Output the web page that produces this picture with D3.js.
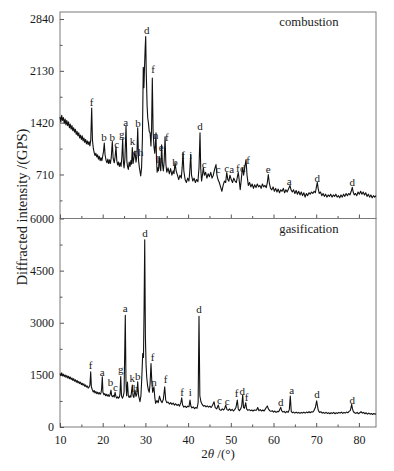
<!DOCTYPE html>
<html><head><meta charset="utf-8">
<script src="https://cdn.jsdelivr.net/npm/d3@7"></script>
<style>
body{margin:0;background:#fff;}
svg{display:block;}
text{font-family:"Liberation Serif","Times New Roman",serif;fill:#1a1a1a;}
</style>
</head><body><svg id="c" width="394" height="471"></svg>
<script>
const xTicks = [10,20,30,40,50,60,70,80];
const xMinorTicks = [15,25,35,45,55,65,75];
const combustionTicks = [710,1420,2130,2840];
const combustionMinor = [355,1065,1775,2485];
const gasificationTicks = [0,1500,3000,4500,6000];
const gasificationMinor = [750,2250,3750,5250];
const panelNames = ["combustion","gasification"];

const combustion = [[10.0,1500],[10.2,1430],[10.4,1520],[10.6,1450],[10.8,1490],[11.0,1410],[11.2,1470],[11.4,1390],[11.6,1450],[11.8,1380],[12.0,1430],[12.2,1350],[12.4,1400],[12.6,1330],[12.8,1380],[13.0,1310],[13.2,1350],[13.4,1290],[13.6,1330],[13.8,1260],[14.0,1300],[14.2,1240],[14.4,1280],[14.6,1210],[14.8,1250],[15.0,1190],[15.2,1240],[15.4,1170],[15.6,1210],[15.8,1150],[16.0,1190],[16.2,1130],[16.4,1170],[16.6,1120],[16.8,1160],[17.0,1100],[17.2,1180],[17.42,1620],[17.6,1180],[17.8,1070],[18.0,1010],[18.2,970],[18.4,1000],[18.6,950],[18.8,980],[19.0,920],[19.2,960],[19.4,900],[19.6,940],[19.8,900],[20.0,960],[20.2,1030],[20.37,1140],[20.55,980],[20.8,900],[21.0,870],[21.2,920],[21.4,860],[21.6,910],[21.8,860],[22.0,940],[22.25,1160],[22.45,930],[22.7,870],[22.9,950],[23.11,1090],[23.3,900],[23.5,840],[23.7,880],[23.9,820],[24.1,870],[24.3,820],[24.5,960],[24.68,1200],[24.85,880],[25.0,800],[25.2,930],[25.46,1375],[25.65,900],[25.8,820],[26.0,780],[26.2,880],[26.4,820],[26.6,900],[26.75,850],[26.93,1080],[27.1,860],[27.3,930],[27.56,1030],[27.8,880],[28.0,960],[28.2,1350],[28.4,900],[28.6,800],[28.9,690],[29.1,800],[29.3,1200],[29.5,2180],[29.65,1900],[29.8,2200],[29.95,2450],[30.07,2600],[30.2,2100],[30.4,1650],[30.55,1480],[30.7,1420],[30.9,1300],[31.1,1280],[31.3,1100],[31.45,1350],[31.62,2030],[31.8,1300],[32.0,1090],[32.2,1000],[32.35,1150],[32.48,1280],[32.6,900],[32.75,740],[32.9,800],[33.05,760],[33.25,955],[33.45,800],[33.6,760],[33.8,1118],[34.0,850],[34.2,760],[34.4,900],[34.6,1226],[34.8,850],[35.0,740],[35.3,800],[35.6,720],[35.9,790],[36.2,700],[36.5,760],[36.7,720],[36.93,873],[37.2,760],[37.5,700],[37.8,640],[38.1,700],[38.4,660],[38.6,800],[38.81,1009],[39.0,760],[39.3,640],[39.6,600],[39.9,660],[40.2,620],[40.4,760],[40.61,982],[40.8,700],[41.1,620],[41.4,660],[41.7,600],[42.0,640],[42.3,610],[42.55,800],[42.79,1280],[42.95,800],[43.15,620],[43.35,700],[43.56,806],[43.8,700],[44.1,740],[44.4,660],[44.7,720],[45.0,680],[45.3,740],[45.6,660],[45.9,700],[46.2,780],[46.53,846],[46.75,700],[47.0,640],[47.3,600],[47.6,540],[47.9,480],[48.2,560],[48.5,620],[48.8,600],[49.04,738],[49.3,640],[49.55,620],[49.8,700],[50.1,640],[50.4,600],[50.7,660],[51.0,620],[51.3,600],[51.55,680],[51.76,738],[51.95,640],[52.2,500],[52.45,640],[52.65,760],[52.79,800],[53.0,700],[53.3,820],[53.56,914],[53.8,700],[54.1,560],[54.4,600],[54.7,540],[55.0,580],[55.3,520],[55.6,570],[55.9,530],[56.2,580],[56.5,540],[56.8,560],[57.1,520],[57.4,580],[57.7,540],[58.0,560],[58.3,530],[58.55,600],[58.78,710],[59.0,600],[59.3,520],[59.6,500],[59.9,540],[60.2,480],[60.5,520],[60.8,470],[61.1,510],[61.4,460],[61.7,500],[62.0,480],[62.3,520],[62.6,460],[62.9,500],[63.2,470],[63.5,510],[63.86,560],[64.1,500],[64.4,470],[64.7,500],[65.0,450],[65.3,490],[65.6,440],[65.9,480],[66.2,430],[66.5,470],[66.8,420],[67.1,460],[67.4,400],[67.7,450],[68.0,420],[68.3,460],[68.6,440],[68.9,470],[69.2,450],[69.5,480],[69.8,460],[70.05,540],[70.26,602],[70.45,520],[70.7,450],[71.0,470],[71.3,420],[71.6,450],[71.9,410],[72.2,440],[72.5,400],[72.8,430],[73.1,410],[73.4,440],[73.7,400],[74.0,430],[74.3,410],[74.6,440],[74.9,400],[75.2,420],[75.5,390],[75.8,430],[76.1,400],[76.4,440],[76.7,410],[77.0,450],[77.3,420],[77.6,450],[77.9,430],[78.2,480],[78.45,534],[78.65,470],[78.9,430],[79.2,450],[79.5,420],[79.8,470],[80.1,440],[80.4,480],[80.7,440],[81.0,470],[81.3,430],[81.6,460],[81.9,410],[82.2,440],[82.5,400],[82.8,430],[83.1,390],[83.4,420],[83.7,400],[84.0,420]];

const gasification = [[10.0,1540],[10.2,1480],[10.4,1560],[10.6,1470],[10.8,1520],[11.0,1450],[11.2,1500],[11.4,1430],[11.6,1480],[11.8,1410],[12.0,1460],[12.2,1390],[12.4,1440],[12.6,1370],[12.8,1410],[13.0,1340],[13.2,1390],[13.4,1320],[13.6,1360],[13.8,1290],[14.0,1340],[14.2,1270],[14.4,1310],[14.6,1250],[14.8,1290],[15.0,1220],[15.2,1260],[15.4,1200],[15.6,1240],[15.8,1170],[16.0,1210],[16.2,1150],[16.4,1180],[16.6,1120],[16.8,1150],[17.0,1200],[17.19,1590],[17.35,1150],[17.6,1060],[17.8,1010],[18.0,1050],[18.2,980],[18.4,1020],[18.6,960],[18.8,1000],[19.0,950],[19.2,990],[19.4,940],[19.6,980],[19.75,1100],[19.91,1445],[20.05,1000],[20.3,930],[20.5,960],[20.7,900],[20.9,940],[21.1,890],[21.3,930],[21.5,880],[21.7,920],[21.94,1060],[22.1,900],[22.3,870],[22.5,910],[22.7,860],[22.9,1000],[23.1,880],[23.3,830],[23.5,870],[23.7,830],[23.9,860],[24.05,950],[24.22,1450],[24.4,900],[24.6,830],[24.8,880],[25.0,1000],[25.15,2100],[25.29,3215],[25.45,1300],[25.6,900],[25.8,1290],[26.0,900],[26.2,850],[26.4,900],[26.6,860],[26.93,1206],[27.1,900],[27.3,850],[27.55,1060],[27.8,880],[28.0,950],[28.2,1300],[28.4,900],[28.73,727],[28.95,900],[29.15,1400],[29.37,2116],[29.55,2000],[29.7,3500],[29.84,5389],[30.0,2600],[30.15,1800],[30.3,1445],[30.5,1200],[30.7,1060],[30.9,1000],[31.1,1250],[31.31,1828],[31.5,1300],[31.7,1000],[32.0,1157],[32.2,850],[32.4,680],[32.7,760],[33.0,700],[33.3,890],[33.6,760],[33.9,700],[34.2,800],[34.52,1157],[34.75,780],[35.0,700],[35.3,720],[35.6,660],[35.9,700],[36.2,650],[36.5,690],[36.8,630],[37.1,670],[37.4,620],[37.7,650],[38.0,600],[38.3,700],[38.5,842],[38.7,640],[39.0,570],[39.3,600],[39.6,560],[39.9,600],[40.2,580],[40.44,775],[40.65,600],[40.9,550],[41.2,580],[41.5,530],[41.8,560],[42.1,540],[42.35,700],[42.55,3187],[42.75,900],[43.0,727],[43.3,650],[43.6,600],[43.9,620],[44.2,580],[44.5,610],[44.8,570],[45.1,600],[45.4,560],[45.7,620],[46.07,727],[46.35,560],[46.7,520],[47.07,632],[47.35,500],[47.7,480],[48.0,520],[48.3,490],[48.55,530],[48.8,632],[49.1,500],[49.4,480],[49.7,520],[50.0,470],[50.3,510],[50.6,460],[50.9,500],[51.2,560],[51.52,775],[51.75,520],[52.0,470],[52.3,520],[52.55,600],[52.79,919],[52.98,560],[53.2,540],[53.49,699],[53.7,520],[54.0,480],[54.3,500],[54.6,470],[54.9,490],[55.2,460],[55.5,490],[56.0,480],[56.3,560],[56.6,470],[56.9,500],[57.2,460],[57.5,490],[57.8,460],[58.0,500],[58.3,560],[58.55,603],[58.8,520],[59.1,470],[59.4,450],[59.7,470],[60.0,430],[60.3,460],[60.6,420],[60.9,450],[61.2,440],[61.45,500],[61.69,565],[61.9,470],[62.2,430],[62.5,450],[62.8,410],[63.1,450],[63.4,420],[63.7,500],[63.93,890],[64.15,450],[64.4,410],[64.7,430],[65.0,400],[65.3,430],[65.6,400],[65.9,420],[66.2,390],[66.5,420],[66.8,400],[67.1,430],[67.4,400],[67.7,430],[68.0,410],[68.3,440],[68.6,410],[68.9,440],[69.2,430],[69.5,480],[69.8,560],[70.1,756],[70.3,600],[70.5,470],[70.8,420],[71.1,440],[71.4,400],[71.7,420],[72.0,390],[72.3,420],[72.6,390],[72.9,410],[73.2,380],[73.5,410],[73.8,390],[74.1,420],[74.4,380],[74.7,410],[75.0,390],[75.3,420],[75.6,400],[75.9,430],[76.2,390],[76.5,420],[76.8,400],[77.1,430],[77.4,410],[77.7,450],[78.0,480],[78.15,560],[78.3,651],[78.5,520],[78.7,440],[79.0,410],[79.3,390],[79.6,420],[79.9,380],[80.2,410],[80.5,440],[80.8,400],[81.1,420],[81.4,380],[81.7,410],[82.0,370],[82.3,400],[82.6,370],[82.9,390],[83.2,360],[83.5,390],[83.8,370],[84.0,380]];

const combustionLabels = [["f",17.42,1707],["b",20.30,1228],["b",22.25,1228],["c",23.28,1124],["g",24.45,1261],["a",25.39,1433],["k",27.0,1160],["c",27.56,1010],["h",28.9,1010],["b",28.27,1411],["d",30.30,2689],["f",31.78,2155],["n",32.41,1251],["h",33.26,918],["e",33.72,1091],["f",34.99,1228],["b",36.93,885],["f",38.81,977],["i",40.61,977],["d",42.79,1374],["c",43.79,854],["c",47.07,781],["c",49.04,803],["a",50.21,785],["f",51.62,795],["d",52.79,803],["f",54.03,909],["e",58.78,781],["a",63.70,621],["d",70.26,666],["d",78.45,611]];

const gasificationLabels = [["f",17.19,1780],["a",19.91,1588],["b",21.8,1300],["c",23.0,1160],["g",24.22,1657],["a",25.29,3408],["k",26.93,1420],["b",28.2,1473],["h",27.68,1110],["d",29.91,5590],["f",31.71,2018],["n",32.01,1301],["f",34.75,1378],["f",38.57,1013],["i",40.52,1013],["d",42.55,3379],["c",47.31,775],["c",49.18,746],["f",51.38,968],["d",52.69,1042],["f",53.72,870],["d",61.69,726],["a",64.26,1062],["d",70.19,939],["d",78.45,775]];

const svg = d3.select("#c");
const L = 60, R = 376, T1 = 12, B1 = 218.5, T2 = 218.5, B2 = 427;
const x = d3.scaleLinear().domain([10,84]).range([L,R]);
const yTop = d3.scaleLinear().domain([107,2936]).range([B1,T1]);
const yBot = d3.scaleLinear().domain([0,6000]).range([B2,T2]);

const frameColor = "#7a7a7a";
function styleAxis(g){
  g.select(".domain").remove();
  g.selectAll(".tick line").attr("stroke","#555").attr("stroke-width",1);
  g.selectAll(".tick text").attr("font-size",12).attr("fill","#1a1a1a")
    .attr("font-family",'"Liberation Serif","Times New Roman",serif');
}

function panel(data, y, yt, ym, labels, name, top, bottom, showX){
  svg.append("rect").attr("x",L).attr("y",top).attr("width",R-L).attr("height",bottom-top)
    .attr("fill","none").attr("stroke",frameColor).attr("stroke-width",1);
  svg.append("g").attr("transform",`translate(${L},0)`)
    .call(d3.axisLeft(y).tickValues(yt).tickSize(-4).tickPadding(6).tickFormat(d3.format("d")))
    .call(styleAxis);
  svg.append("g").attr("transform",`translate(${L},0)`)
    .call(d3.axisLeft(y).tickValues(ym).tickSize(-2.5).tickFormat(""))
    .call(styleAxis);
  svg.append("g").attr("transform",`translate(0,${bottom})`)
    .call(d3.axisBottom(x).tickValues(xTicks).tickSize(-4).tickPadding(8).tickFormat(showX ? d3.format("d") : ""))
    .call(styleAxis);
  svg.append("g").attr("transform",`translate(0,${bottom})`)
    .call(d3.axisBottom(x).tickValues(xMinorTicks).tickSize(-2.5).tickFormat(""))
    .call(styleAxis);
  const line = d3.line().x(d=>x(d[0])).y(d=>y(d[1]));
  svg.append("path").datum(data).attr("d",line).attr("fill","none")
    .attr("stroke","#111").attr("stroke-width",1.1).attr("stroke-linejoin","round");
  svg.append("g").selectAll("text").data(labels).join("text")
    .attr("x",d=>x(d[1])).attr("y",d=>y(d[2])).attr("dy","0.35em")
    .attr("text-anchor","middle").attr("font-size",11).text(d=>d[0]);
  svg.append("text").attr("x",x(68.3)).attr("y",top+10).attr("dy","0.35em")
    .attr("text-anchor","middle").attr("font-size",12.7).text(name);
}

panel(combustion, yTop, combustionTicks, combustionMinor, combustionLabels, panelNames[0], T1, B1, false);
panel(gasification, yBot, gasificationTicks, gasificationMinor, gasificationLabels, panelNames[1], T2, B2, true);

const xt = svg.append("text").attr("x",(L+R)/2).attr("y",458).attr("text-anchor","middle").attr("font-size",13);
xt.append("tspan").text("2");
xt.append("tspan").attr("font-style","italic").text("θ");
xt.append("tspan").text(" /(°)");

svg.append("text").attr("transform","translate(22,207) rotate(-90)").attr("dy","0.35em")
  .attr("text-anchor","middle").attr("font-size",14.5).text("Diffracted intensity /(GPS)");
</script>
</body></html>
